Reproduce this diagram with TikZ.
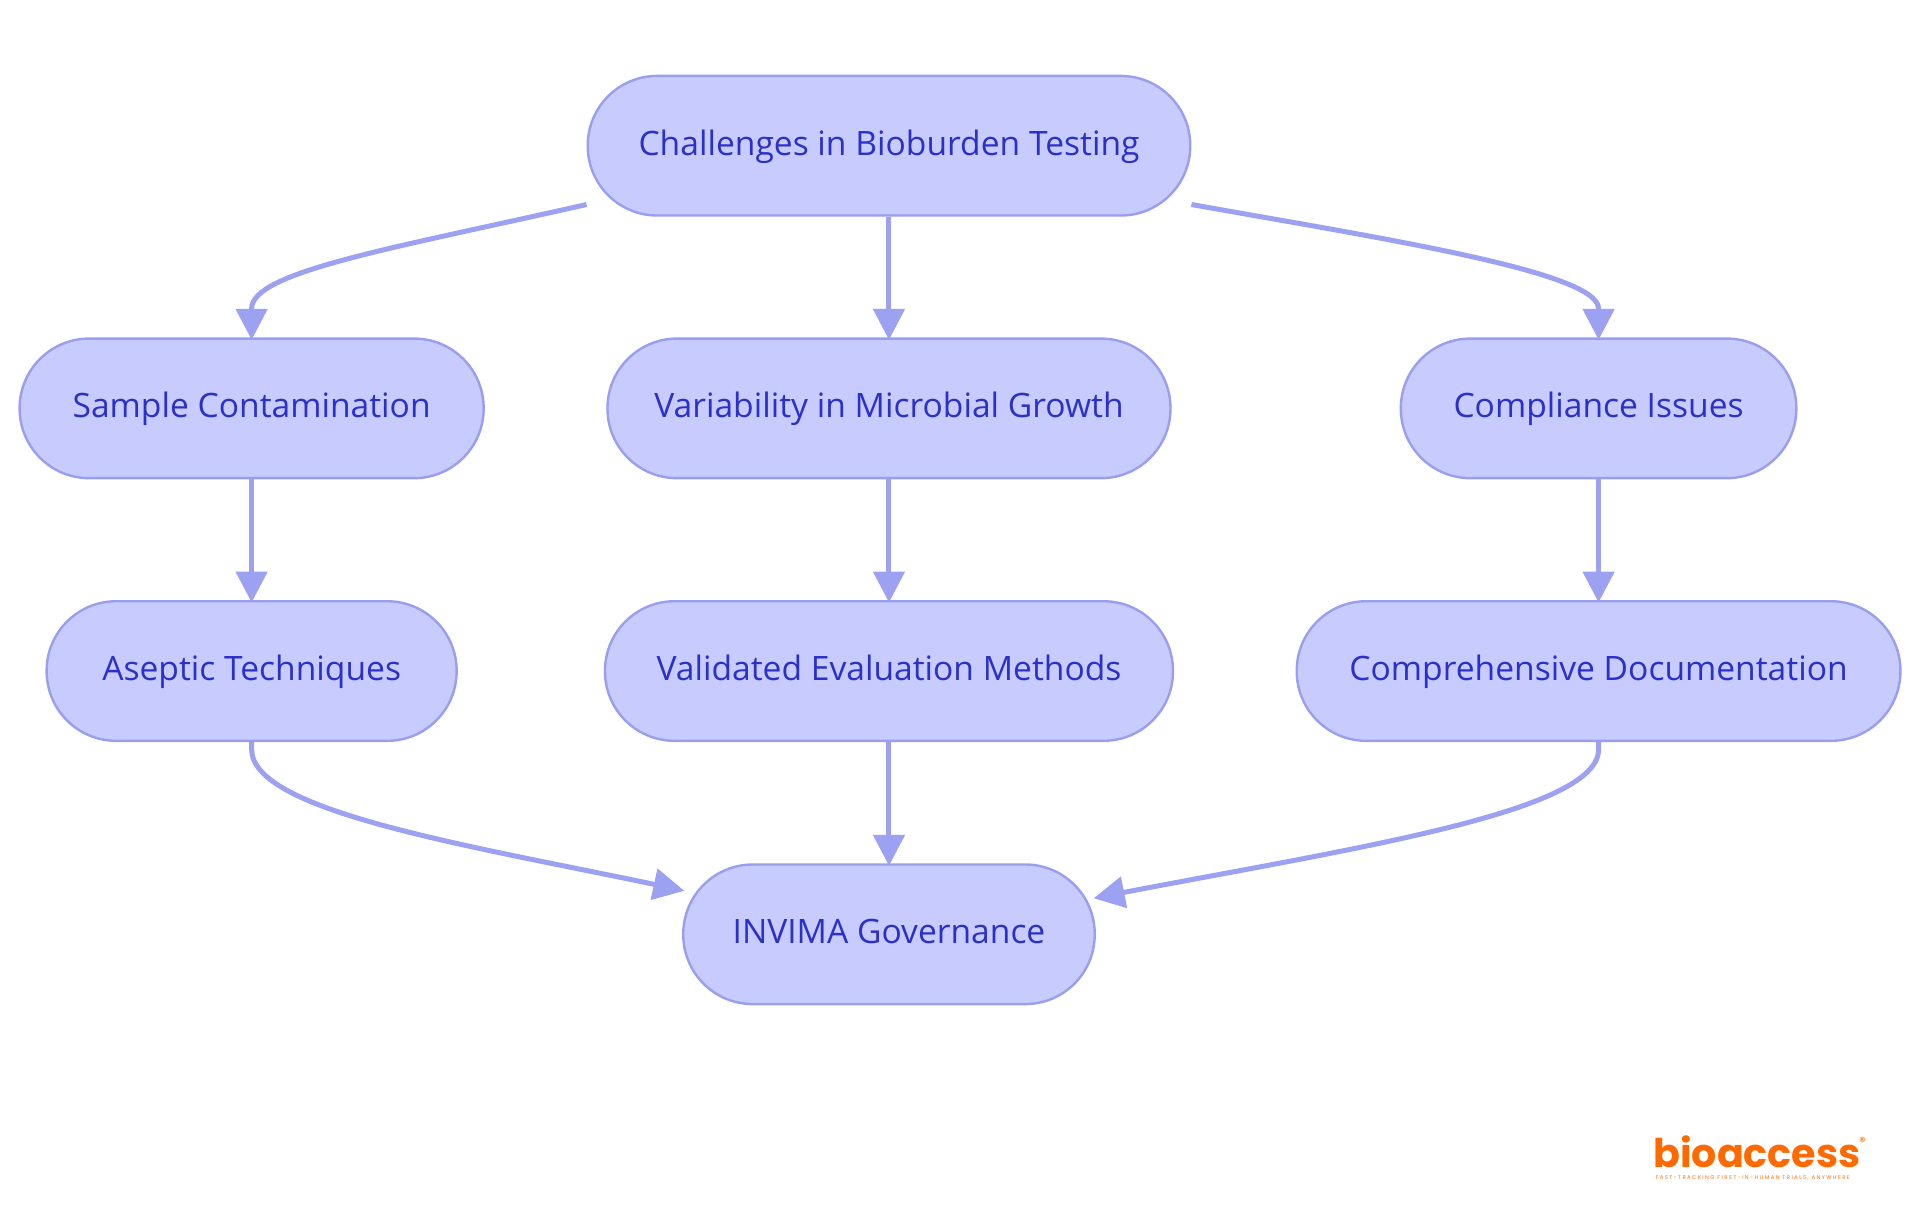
\documentclass[tikz,border=0pt]{standalone}
\usepackage{fontspec}
\setmainfont{Open Sans}[Scale=1]
\newfontfamily\logofont{Poppins}
\newfontfamily\tagfont{Poppins}[LetterSpace=26]
\usetikzlibrary{arrows.meta,bending}
\definecolor{nodefill}{HTML}{C8CBFD}
\definecolor{nodeline}{HTML}{9A9EEF}
\definecolor{edgeline}{HTML}{9DA1F2}
\definecolor{nodetext}{HTML}{2B30C8}
\definecolor{logoorange}{HTML}{FF6A00}
\tikzset{
  box/.style={rectangle,rounded corners=69.5pt,draw=nodeline,fill=nodefill,line width=2.4pt,
    text=nodetext,font=\fontsize{33.6}{38}\selectfont,minimum height=139.6pt,inner sep=0pt,align=center,
    text height=27pt,text depth=8pt},
  link/.style={draw=edgeline,line width=5pt,shorten >=-2.5pt,-{Triangle[length=31pt,width=31pt,flex=0]}}
}
\begin{document}
\begin{tikzpicture}[x=1.22449pt,y=-1.22449pt]
\useasboundingbox (0,0) rectangle (1568,992.25);
\node[box,minimum width=602.5pt] (top) at (726,119) {Challenges in Bioburden Testing};
\node[box,minimum width=464pt] (sample) at (205.5,333.5) {Sample Contamination};
\node[box,minimum width=563pt] (vari) at (726,333.5) {Variability in Microbial Growth};
\node[box,minimum width=395.5pt] (comp) at (1305.5,333.5) {Compliance Issues};
\node[box,minimum width=410pt] (asep) at (205.5,548) {Aseptic Techniques};
\node[box,minimum width=568pt] (valid) at (726,548) {Validated Evaluation Methods};
\node[box,minimum width=603.7pt] (docu) at (1305.5,548) {Comprehensive Documentation};
\node[box,minimum width=411.5pt] (invima) at (726,763) {INVIMA Governance};
\draw[link] (top.191.8) .. controls (320,203) and (205.5,222) .. (205.5,252) -- (sample.north);
\draw[link] (top.south) -- (vari.north);
\draw[link] (top.349.8) .. controls (1130,195) and (1305.5,222) .. (1305.5,252) -- (comp.north);
\draw[link] (sample.south) -- (asep.north);
\draw[link] (vari.south) -- (valid.north);
\draw[link] (comp.south) -- (docu.north);
\draw[link] (asep.south) -- (205.5,612) .. controls (205.5,665) and (400,693) .. (invima.168);
\draw[link] (valid.south) -- (invima.north);
\draw[link] (docu.south) -- (1305.5,612) .. controls (1305.5,665) and (1090,695) .. (invima.10.7);
\node[text=logoorange,font=\logofont\bfseries\fontsize{39.6}{40}\selectfont,inner sep=0pt,anchor=base west,text depth=0pt] (logo) at (1350,953.5) {bioaccess};
\node[text=logoorange,font=\logofont\fontsize{13}{13}\selectfont,inner sep=0pt] (reg) at (1521,932.5) {®};
\node[text=logoorange,font=\tagfont\fontsize{5.4}{6}\selectfont,inner sep=0pt,anchor=base west] (tag) at (1352,963.5) {FAST-TRACKING FIRST-IN-HUMAN TRIALS, ANYWHERE};
\end{tikzpicture}
\end{document}
